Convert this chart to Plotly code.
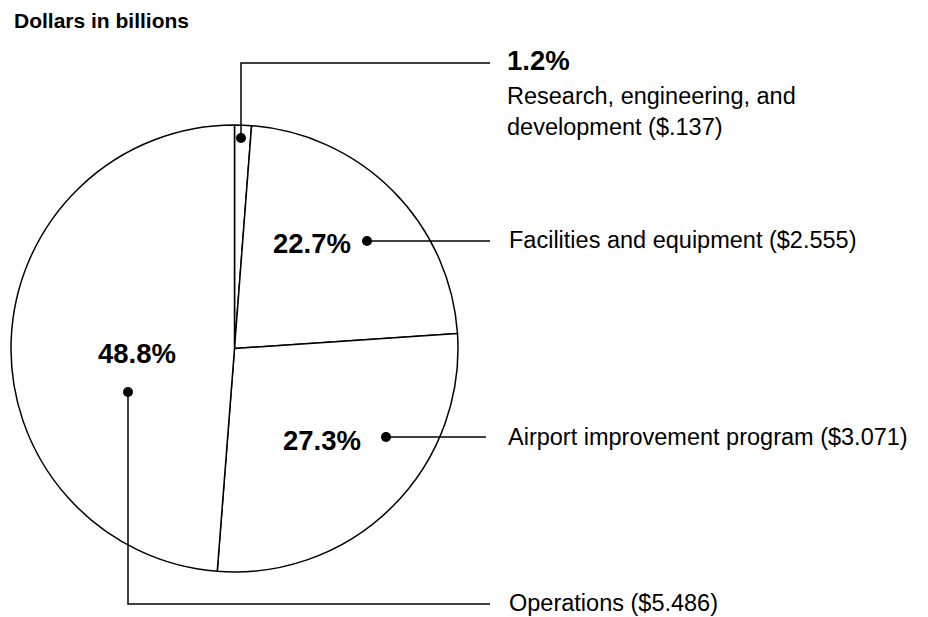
import plotly.graph_objects as go

# ---- data ----
categories = ["Research, engineering, and development", "Facilities and equipment",
              "Airport improvement program", "Operations"]
values = [0.137, 2.555, 3.071, 5.486]          # dollars in billions
amount_labels = ["$.137", "$2.555", "$3.071", "$5.486"]

total = sum(values)
pcts = [f"{v / total * 100:.1f}%" for v in values]

W, H = 928, 617
FONT = "Liberation Sans, Arial, Helvetica, sans-serif"

# pie geometry (pixels)
cx, cy, R = 234.5, 348.5, 223.5

fig = go.Figure()
fig.add_trace(go.Pie(
    labels=categories, values=values, sort=False, direction="clockwise", rotation=0,
    marker=dict(colors=["white"] * 4, line=dict(color="black", width=1.5)),
    textinfo="none", hoverinfo="label+value+percent", showlegend=False,
    domain=dict(x=[(cx - R) / W, (cx + R) / W], y=[1 - (cy + R) / H, 1 - (cy - R) / H]),
))

def ann(x, y, text, size, bold=False, xanchor="left"):
    return dict(x=x, y=y, xref="x", yref="y", text=f"<b>{text}</b>" if bold else text,
                showarrow=False, xanchor=xanchor, yanchor="middle",
                font=dict(family=FONT, size=size, color="black"))

BIG, MED = 27.5, 23.5
annotations = [
    ann(12, 20, "Dollars in billions", 21, bold=True),
    # R&D
    ann(505, 60, pcts[0], BIG, bold=True),
    ann(505, 96, "Research, engineering, and", MED),
    ann(505, 127, f"development ({amount_labels[0]})", MED),
    # Facilities
    ann(312, 243, pcts[1], BIG, bold=True, xanchor="center"),
    ann(507, 240, f"{categories[1]} ({amount_labels[1]})", MED),
    # Airport
    ann(322, 440, pcts[2], BIG, bold=True, xanchor="center"),
    ann(506, 437, f"{categories[2]} ({amount_labels[2]})", MED),
    # Operations
    ann(137, 353, pcts[3], BIG, bold=True, xanchor="center"),
    ann(507, 603, f"{categories[3]} ({amount_labels[3]})", MED),
]

line = dict(color="black", width=1.5)
def path(pts):
    d = "M " + " L ".join(f"{x},{y}" for x, y in pts)
    return dict(type="path", path=d, xref="x", yref="y", line=line, layer="above")

def dot(x, y, r=5):
    return dict(type="circle", xref="x", yref="y", x0=x - r, x1=x + r, y0=y - r, y1=y + r,
                fillcolor="black", line=dict(color="black", width=0), layer="above")

shapes = [
    path([(241, 138), (241, 63), (490, 63)]), dot(241, 138),
    path([(367, 241), (490, 241)]), dot(367, 241),
    path([(386, 437), (486, 437)]), dot(386, 437),
    path([(128, 392), (128, 604), (490, 604)]), dot(128, 392),
]

fig.update_layout(
    width=W, height=H, margin=dict(l=0, r=0, t=0, b=0),
    paper_bgcolor="white", plot_bgcolor="rgba(0,0,0,0)",
    xaxis=dict(range=[0, W], visible=False, fixedrange=True, domain=[0, 1]),
    yaxis=dict(range=[H, 0], visible=False, fixedrange=True, domain=[0, 1]),
    annotations=annotations, shapes=shapes,
)

fig.write_html("out.html", config={"displayModeBar": False})
